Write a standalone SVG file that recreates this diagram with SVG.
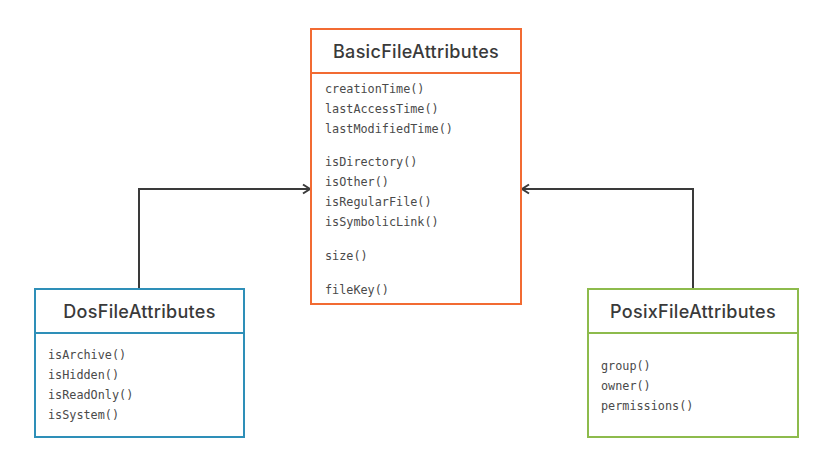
<svg xmlns="http://www.w3.org/2000/svg" width="826" height="465" viewBox="0 0 826 465">
<style>
.box{fill:#fff;stroke-width:2}
.title{font-family:Inter,"Open Sans",sans-serif;font-size:18px;font-weight:500;letter-spacing:0.3px;fill:#3a3a3a;text-anchor:middle}
.m{font-family:"DejaVu Sans Mono","Liberation Mono",monospace;font-size:11.8px;fill:#4a4a4a}
.conn{fill:none;stroke:#3a3a3a;stroke-width:2}
</style>
<defs>
<marker id="arr" markerWidth="12" markerHeight="12" refX="9" refY="6" orient="auto" markerUnits="userSpaceOnUse">
<path d="M2,1.5 L9,6 L2,10.5" fill="none" stroke="#3a3a3a" stroke-width="2"/>
</marker>
</defs>
<rect width="826" height="465" fill="#fff"/>
<g id="connectors">
<path class="conn" d="M139,289 V189 H310" marker-end="url(#arr)"/>
<path class="conn" d="M693,289 V189 H522" marker-end="url(#arr)"/>
</g>
<g id="BasicFileAttributes">
<rect class="box" x="311" y="29" width="210" height="275" stroke="#F26B32"/>
<line x1="311" y1="73" x2="521" y2="73" stroke="#F26B32" stroke-width="2"/>
<text class="title" x="416" y="57.5">BasicFileAttributes</text>
<text class="m" x="325" y="93">creationTime()</text>
<text class="m" x="325" y="113">lastAccessTime()</text>
<text class="m" x="325" y="133">lastModifiedTime()</text>
<text class="m" x="325" y="166">isDirectory()</text>
<text class="m" x="325" y="186">isOther()</text>
<text class="m" x="325" y="206">isRegularFile()</text>
<text class="m" x="325" y="226">isSymbolicLink()</text>
<text class="m" x="325" y="260">size()</text>
<text class="m" x="325" y="294">fileKey()</text>
</g>
<g id="DosFileAttributes">
<rect class="box" x="35" y="289" width="209" height="148" stroke="#2E8FB8"/>
<line x1="35" y1="333" x2="244" y2="333" stroke="#2E8FB8" stroke-width="2"/>
<text class="title" x="139.5" y="317.5">DosFileAttributes</text>
<text class="m" x="48" y="359">isArchive()</text>
<text class="m" x="48" y="379">isHidden()</text>
<text class="m" x="48" y="399">isReadOnly()</text>
<text class="m" x="48" y="419">isSystem()</text>
</g>
<g id="PosixFileAttributes">
<rect class="box" x="588" y="289" width="210" height="148" stroke="#8DBB4C"/>
<line x1="588" y1="333" x2="798" y2="333" stroke="#8DBB4C" stroke-width="2"/>
<text class="title" x="693" y="317.5">PosixFileAttributes</text>
<text class="m" x="601" y="370">group()</text>
<text class="m" x="601" y="390">owner()</text>
<text class="m" x="601" y="410">permissions()</text>
</g>
</svg>
